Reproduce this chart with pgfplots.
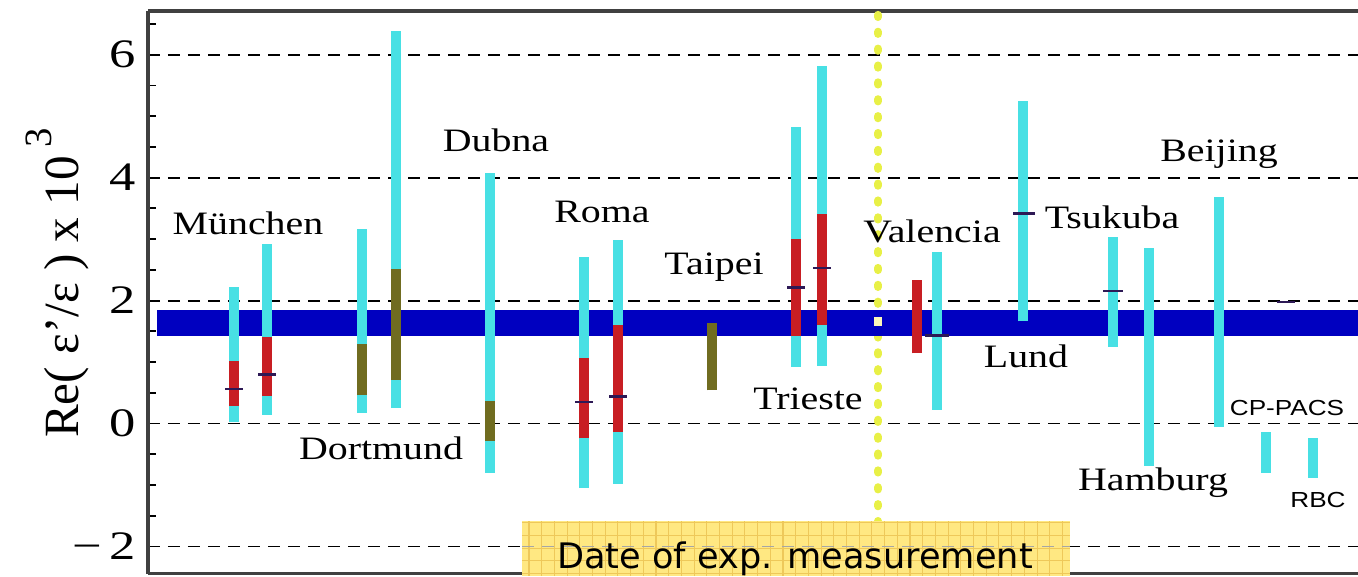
\documentclass[border=0pt]{standalone}
\usepackage{fontspec}
\setmainfont{Liberation Serif}
\newfontfamily\labfont{Liberation Serif}[FakeStretch=1.22]
\newfontfamily\tickfont{Liberation Serif}[FakeStretch=1.3]
\newfontfamily\smallsans{Liberation Sans}[FakeStretch=1.2]
\newfontfamily\datefont{DejaVu Sans}
\usepackage{pgfplots}
\pgfplotsset{compat=1.18}
\definecolor{cybar}{RGB}{72,224,228}
\definecolor{redbar}{RGB}{200,30,35}
\definecolor{olivebar}{RGB}{112,108,32}
\definecolor{bandc}{RGB}{0,0,192}
\definecolor{markc}{RGB}{45,25,85}
\definecolor{dotyellow}{RGB}{232,240,70}
\definecolor{boxyellow}{RGB}{255,232,130}
\definecolor{boxgrid}{RGB}{238,200,90}
\definecolor{paledot}{RGB}{250,246,185}
\begin{document}
\begin{tikzpicture}
\begin{axis}[
  scale only axis, width=121mm, height=56.25mm,
  xmin=148, xmax=1358, ymin=-2.44, ymax=6.71,
  axis y line*=left,
  xtick=\empty,
  ytick={-2,0,2,4,6},
  yticklabels={−\,2,0,2,4,6},
  minor ytick={-1.5,-1,...,6.5},
  ymajorgrids,
  major grid style={black, dash pattern=on 1.2mm off 0.8mm, line width=0.55pt},
  tick style={black, line width=0.5pt},
  major tick length=0.8mm, minor tick length=0.8mm,
  tick align=inside,
  yticklabel style={font=\tickfont\fontsize{11.5}{12}\selectfont},
  axis line style={line width=0.9pt, black!75},
  unbounded coords=jump,
  clip=false,
]
% yellow dotted date line
\addplot[dotyellow, line width=2.3pt, line cap=round, dash pattern=on 0.6pt off 4.2pt]
  coordinates {(878,-1.62) (878,6.71)};
% blue band
\addplot[draw=none, fill=bandc] coordinates {(157,1.43) (1358,1.43) (1358,1.85) (157,1.85)} -- cycle;
\addplot[only marks, mark=square*, mark size=1.0pt, color=paledot] coordinates {(878,1.66)};
% cyan total errors
\addplot[cybar, line width=3.1pt] coordinates {
 (234,0.03) (234,2.22) (234,nan)
 (267,0.14) (267,2.92) (267,nan)
 (362,0.17) (362,3.16) (362,nan)
 (396,0.25) (396,6.38) (396,nan)
 (490,-0.80) (490,4.07) (490,nan)
 (584,-1.05) (584,2.71) (584,nan)
 (618,-0.98) (618,2.99) (618,nan)
 (796,0.92) (796,4.82) (796,nan)
 (822,0.94) (822,5.81) (822,nan)
 (937,0.22) (937,2.79) (937,nan)
 (1023,1.66) (1023,5.24) (1023,nan)
 (1113,1.25) (1113,3.04) (1113,nan)
 (1149,-0.69) (1149,2.85) (1149,nan)
 (1219,-0.05) (1219,3.69) (1219,nan)
 (1266,-0.80) (1266,-0.14) (1266,nan)
 (1313,-0.89) (1313,-0.23)
};
% red inner errors
\addplot[redbar, line width=2.9pt] coordinates {
 (234,0.29) (234,1.02) (234,nan)
 (267,0.45) (267,1.40) (267,nan)
 (584,-0.24) (584,1.06) (584,nan)
 (618,-0.14) (618,1.60) (618,nan)
 (796,1.42) (796,3.00) (796,nan)
 (822,1.60) (822,3.41) (822,nan)
 (917,1.14) (917,2.34)
};
% olive inner errors
\addplot[olivebar, line width=2.9pt] coordinates {
 (362,0.46) (362,1.30) (362,nan)
 (396,0.71) (396,2.51) (396,nan)
 (490,-0.28) (490,0.37) (490,nan)
 (712,0.54) (712,1.63)
};
% central values
\addplot[markc, line width=0.7pt] coordinates {
 (225,0.56) (243,0.56) (243,nan)
 (258,0.80) (276,0.80) (276,nan)
 (575,0.35) (593,0.35) (593,nan)
 (609,0.44) (627,0.44) (627,nan)
 (787,2.21) (805,2.21) (805,nan)
 (813,2.53) (831,2.53) (831,nan)
 (925,1.43) (949,1.43) (949,nan)
 (1013,3.42) (1035,3.42) (1035,nan)
 (1103,2.16) (1123,2.16) (1123,nan)
 (1277,1.98) (1295,1.98)
};
% labels
\begin{scope}[every node/.style={font=\labfont\fontsize{9.3}{10}\selectfont, anchor=base, inner sep=0pt}]
\node at (axis cs:248,3.08) {München};
\node at (axis cs:381,-0.59) {Dortmund};
\node at (axis cs:496,4.42) {Dubna};
\node at (axis cs:602,3.27) {Roma};
\node at (axis cs:714,2.43) {Taipei};
\node at (axis cs:808,0.22) {Trieste};
\node at (axis cs:932,2.94) {Valencia};
\node at (axis cs:1026,0.91) {Lund};
\node at (axis cs:1112,3.18) {Tsukuba};
\node at (axis cs:1219,4.26) {Beijing};
\node at (axis cs:1153,-1.09) {Hamburg};
\end{scope}
\node[font=\smallsans\fontsize{6.2}{7}\selectfont, anchor=base, inner sep=0pt] at (axis cs:1287,0.13) {CP-PACS};
\node[font=\smallsans\fontsize{6.2}{7}\selectfont, anchor=base, inner sep=0pt] at (axis cs:1318,-1.36) {RBC};
\node[rotate=90, font=\fontsize{14}{16}\selectfont] at (axis description cs:-0.0752,0.516)
  {Re( ε'/ε ) x 10\,\raisebox{0.55em}{\fontsize{11}{11}\selectfont 3}};
\end{axis}
% date box
\begin{scope}
\clip (37.4mm,-0.25mm) rectangle (92.2mm,5.25mm);
\fill[boxyellow] (37.4mm,-0.25mm) rectangle (92.2mm,5.25mm);
\draw[boxgrid, line width=0.3pt, step=1.27mm] (37.4mm,-0.25mm) grid (92.2mm,5.25mm);
\draw[black!35, dash pattern=on 1.2mm off 0.8mm, line width=0.45pt] (37.4mm,2.7mm) -- (92.2mm,2.7mm);
\end{scope}
\node[font=\datefont\fontsize{10}{12}\selectfont, anchor=base, inner sep=0pt] at (64.7mm,0.55mm) {Date of exp. measurement};
\pgfresetboundingbox
\path[use as bounding box] (-14.8mm,-0.25mm) rectangle (121mm,57.35mm);
\end{tikzpicture}
\end{document}
